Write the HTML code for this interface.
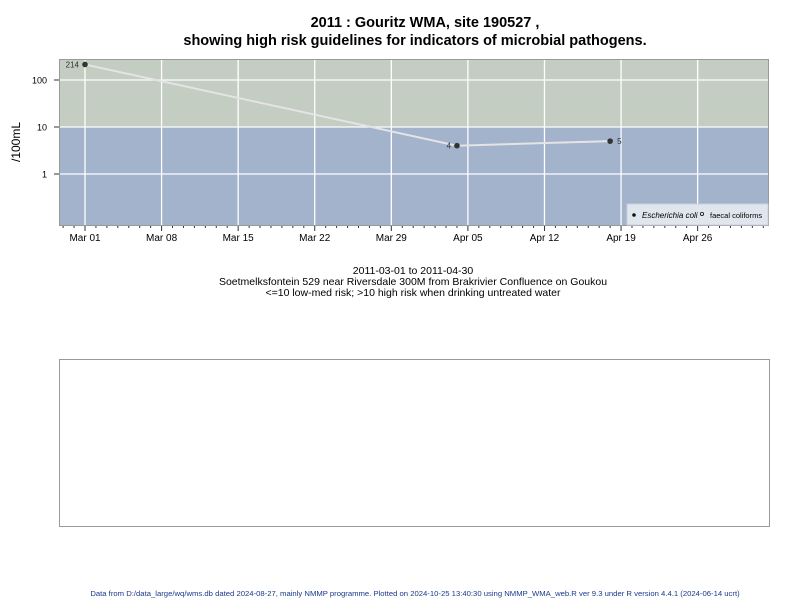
<!DOCTYPE html>
<html><head><meta charset="utf-8"><style>
body{margin:0;background:#fff;width:800px;height:600px;overflow:hidden;font-family:"Liberation Sans",sans-serif}
svg{display:block}
</style></head><body>
<svg width="800" height="600" xmlns="http://www.w3.org/2000/svg" font-family="Liberation Sans, sans-serif">
<text x="425" y="27" text-anchor="middle" font-size="14.5" font-weight="bold">2011 : Gouritz WMA, site 190527 ,</text>
<text x="415" y="45" text-anchor="middle" font-size="14.5" font-weight="bold">showing high risk guidelines for indicators of microbial pathogens.</text>
<g id="plot"></g>
<text x="20" y="142" font-size="12" transform="rotate(-90 20 142)" text-anchor="middle">/100mL</text>
<text x="413" y="274" text-anchor="middle" font-size="10.5">2011-03-01 to 2011-04-30</text>
<text x="413" y="285" text-anchor="middle" font-size="10.5">Soetmelksfontein 529 near Riversdale 300M from Brakrivier Confluence on Goukou</text>
<text x="413" y="296" text-anchor="middle" font-size="10.5">&lt;=10 low-med risk; &gt;10 high risk when drinking untreated water</text>
<rect x="59.5" y="359.5" width="710" height="167" fill="none" stroke="#999"/>
<text x="415" y="596" text-anchor="middle" font-size="7.7" fill="#1a3a8a">Data from D:/data_large/wq/wms.db dated 2024-08-27, mainly NMMP programme. Plotted on 2024-10-25 13:40:30 using NMMP_WMA_web.R ver 9.3 under R version 4.4.1 (2024-06-14 ucrt)</text>
</svg>
<script>
const dates = ["2011-03-01","2011-04-04","2011-04-18"];
const values = [214,4,5];
const valueLabels = ["214","4","5"];
const yTicks = [1,10,100];
const xTickLabels = ["Mar 01","Mar 08","Mar 15","Mar 22","Mar 29","Apr 05","Apr 12","Apr 19","Apr 26"];
const threshold = 10;

const NS="http://www.w3.org/2000/svg";
const L=59,R=769,T=59,B=226;
const day0=Date.UTC(2011,2,1), DAY=86400000;
function dayOf(s){const p=s.split('-');return (Date.UTC(+p[0],+p[1]-1,+p[2])-day0)/DAY;}
function x(d){return 85+d*10.94;}
function y(v){return 174-47*Math.log10(v);}
const g=document.getElementById('plot');
function el(t,a){const e=document.createElementNS(NS,t);for(const k in a)e.setAttribute(k,a[k]);g.appendChild(e);return e;}
let e;
e=el('rect',{x:L,y:T,width:R-L,height:y(threshold)-T,fill:'#c3cdc1'});


e=el('rect',{x:L,y:y(threshold),width:R-L,height:B-y(threshold),fill:'#a2b3cb'});


yTicks.forEach(v=>{
 e=el('line',{x1:L,x2:R,y1:y(v),y2:y(v),stroke:'#fff','stroke-width':1.3});
 
 
 el('line',{x1:L-5,x2:L,y1:y(v),y2:y(v),stroke:'#333'});
 e=el('text',{x:L-12,y:y(v)+3.5,'text-anchor':'end','font-size':9});
 e.textContent=String(v);
 
 
});
xTickLabels.forEach((lab,i)=>{
 const xx=x(i*7);
 e=el('line',{x1:xx,x2:xx,y1:T,y2:B,stroke:'#fff','stroke-width':1.3});
 
 
 e=el('text',{x:xx,y:B+15,'text-anchor':'middle','font-size':10});
 e.textContent=lab;
 
 
});
for(let d=-2;d<=62;d++){const xx=x(d);if(xx<L||xx>R)continue;el('line',{x1:xx,x2:xx,y1:B,y2:B+(d%7==0?5:2),stroke:'#333'});}
e=el('rect',{x:L+.5,y:T+.5,width:R-L-1,height:B-T-1,fill:'none',stroke:'#999'});


const pts=dates.map((d,i)=>x(dayOf(d))+','+y(values[i])).join(' ');
e=el('polyline',{points:pts,fill:'none',stroke:'#e4e4e4','stroke-width':2});


dates.forEach((d,i)=>{
 const xx=x(dayOf(d)),yy=y(values[i]);
 e=el('circle',{cx:xx,cy:yy,r:2.8,fill:'#333'});
 
 
 const left=i<2;
 e=el('text',{x:left?xx-6:xx+7,y:yy+3,'text-anchor':left?'end':'start','font-size':8,fill:'#333'});
 e.textContent=valueLabels[i];
 
 
});
e=el('rect',{x:627,y:204,width:141,height:21,fill:'#e0e6ee',stroke:'#c8d0da'});


el('circle',{cx:634,cy:215,r:1.8,fill:'#111'});
e=el('text',{x:642,y:218,'font-size':8,'font-style':'italic'});
e.textContent='Escherichia coli';


el('circle',{cx:702,cy:214,r:1.6,fill:'none',stroke:'#111','stroke-width':.8});
e=el('text',{x:710,y:218,'font-size':7.5});
e.textContent='faecal coliforms';


</script>
</body></html>
